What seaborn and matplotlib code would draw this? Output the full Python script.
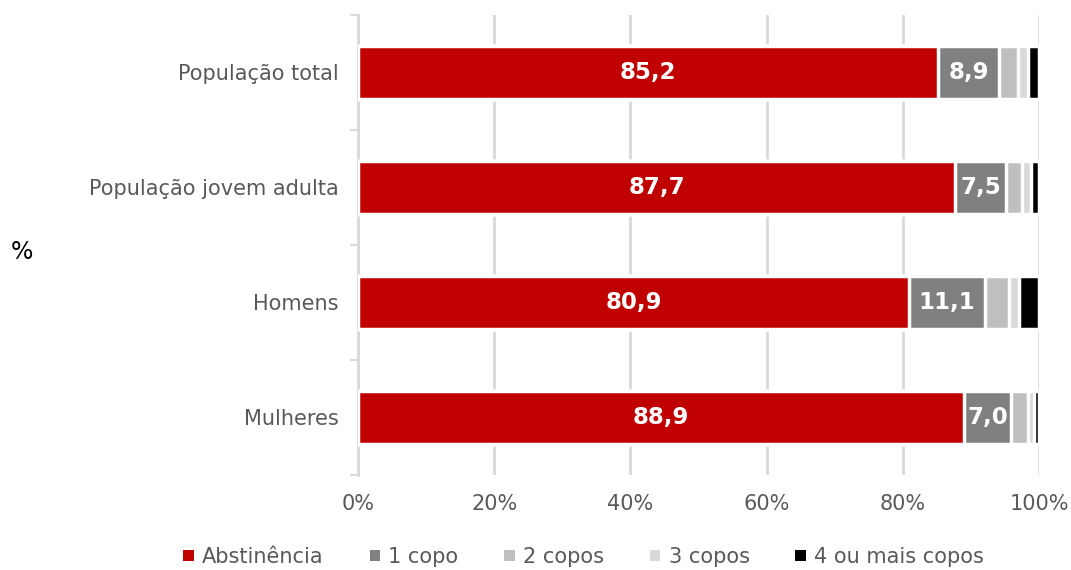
import matplotlib
matplotlib.use("Agg")
import matplotlib.pyplot as plt
from matplotlib.patches import Patch
import numpy as np
import pandas as pd
import seaborn as sns

categories = ["População total", "População jovem adulta", "Homens", "Mulheres"]
series_names = ["Abstinência", "1 copo", "2 copos", "3 copos", "4 ou mais copos"]
abstinencia = [85.2, 87.7, 80.9, 88.9]
um_copo = [8.9, 7.5, 11.1, 7.0]
dois_copos = [2.8, 2.3, 3.5, 2.4]
tres_copos = [1.4, 1.3, 1.6, 0.9]
quatro_mais = [1.7, 1.2, 2.9, 0.8]
colors = ["#C00000", "#808080", "#BFBFBF", "#D9D9D9", "#000000"]
x_ticks = [0, 20, 40, 60, 80, 100]
x_tick_labels = ["0%", "20%", "40%", "60%", "80%", "100%"]

values = np.array([abstinencia, um_copo, dois_copos, tres_copos, quatro_mais])
cumulative = values.cumsum(axis=0)

sns.set_theme(style="white")
plt.rcParams["font.family"] = ["DejaVu Sans"]

fig = plt.figure(figsize=(10.71, 5.70), dpi=100)
ax = fig.add_axes([0.3343, 0.1667, 0.6360, 0.8070])

# Stacked bars: draw cumulative totals from the outermost segment inward
for i in range(len(series_names) - 1, -1, -1):
    df = pd.DataFrame({"categoria": categories, "valor": cumulative[i]})
    sns.barplot(data=df, x="valor", y="categoria", orient="h", color=colors[i],
                saturation=1, width=0.46, edgecolor="white", linewidth=2.5,
                ax=ax, zorder=3)

# Value labels on the first two segments
for j in range(len(categories)):
    starts = [0.0, abstinencia[j]]
    for k, v in enumerate([abstinencia[j], um_copo[j]]):
        ax.text(starts[k] + v / 2, j, f"{v:.1f}".replace(".", ","),
                ha="center", va="center", color="white", fontsize=16.5,
                fontweight="bold", zorder=5)

ax.set_xlim(0, 100)
ax.set_ylim(3.5, -0.5)
ax.set_xticks(x_ticks)
ax.set_xticklabels(x_tick_labels)
ax.xaxis.grid(True, color="#D9D9D9", linewidth=2)
ax.set_axisbelow(True)
ax.set_xlabel("")

for s in ["top", "right", "bottom"]:
    ax.spines[s].set_visible(False)
ax.spines["left"].set_color("#D9D9D9")
ax.spines["left"].set_linewidth(2)

ax.set_yticks(np.arange(-0.5, 4.0, 1.0), minor=True)
ax.tick_params(axis="y", which="minor", length=6, width=1.5, color="#D9D9D9", left=True)
ax.tick_params(axis="y", which="major", length=0, pad=14, labelsize=15, labelcolor="#595959")
ax.tick_params(axis="x", which="both", length=0, pad=14, labelsize=15, labelcolor="#595959")

ax.set_ylabel("%", rotation=0, fontsize=17, color="black", va="center", ha="center")
ax.yaxis.set_label_coords(-0.493, 0.485)

handles = [Patch(facecolor=c, edgecolor="none") for c in colors]
fig.legend(handles, series_names, loc="center", bbox_to_anchor=(0.545, 0.023),
           ncol=5, frameon=False, fontsize=15, handlelength=0.5, handleheight=0.5,
           handletextpad=0.4, columnspacing=2.2, labelcolor="#595959")

fig.savefig("out.png", dpi=100)
